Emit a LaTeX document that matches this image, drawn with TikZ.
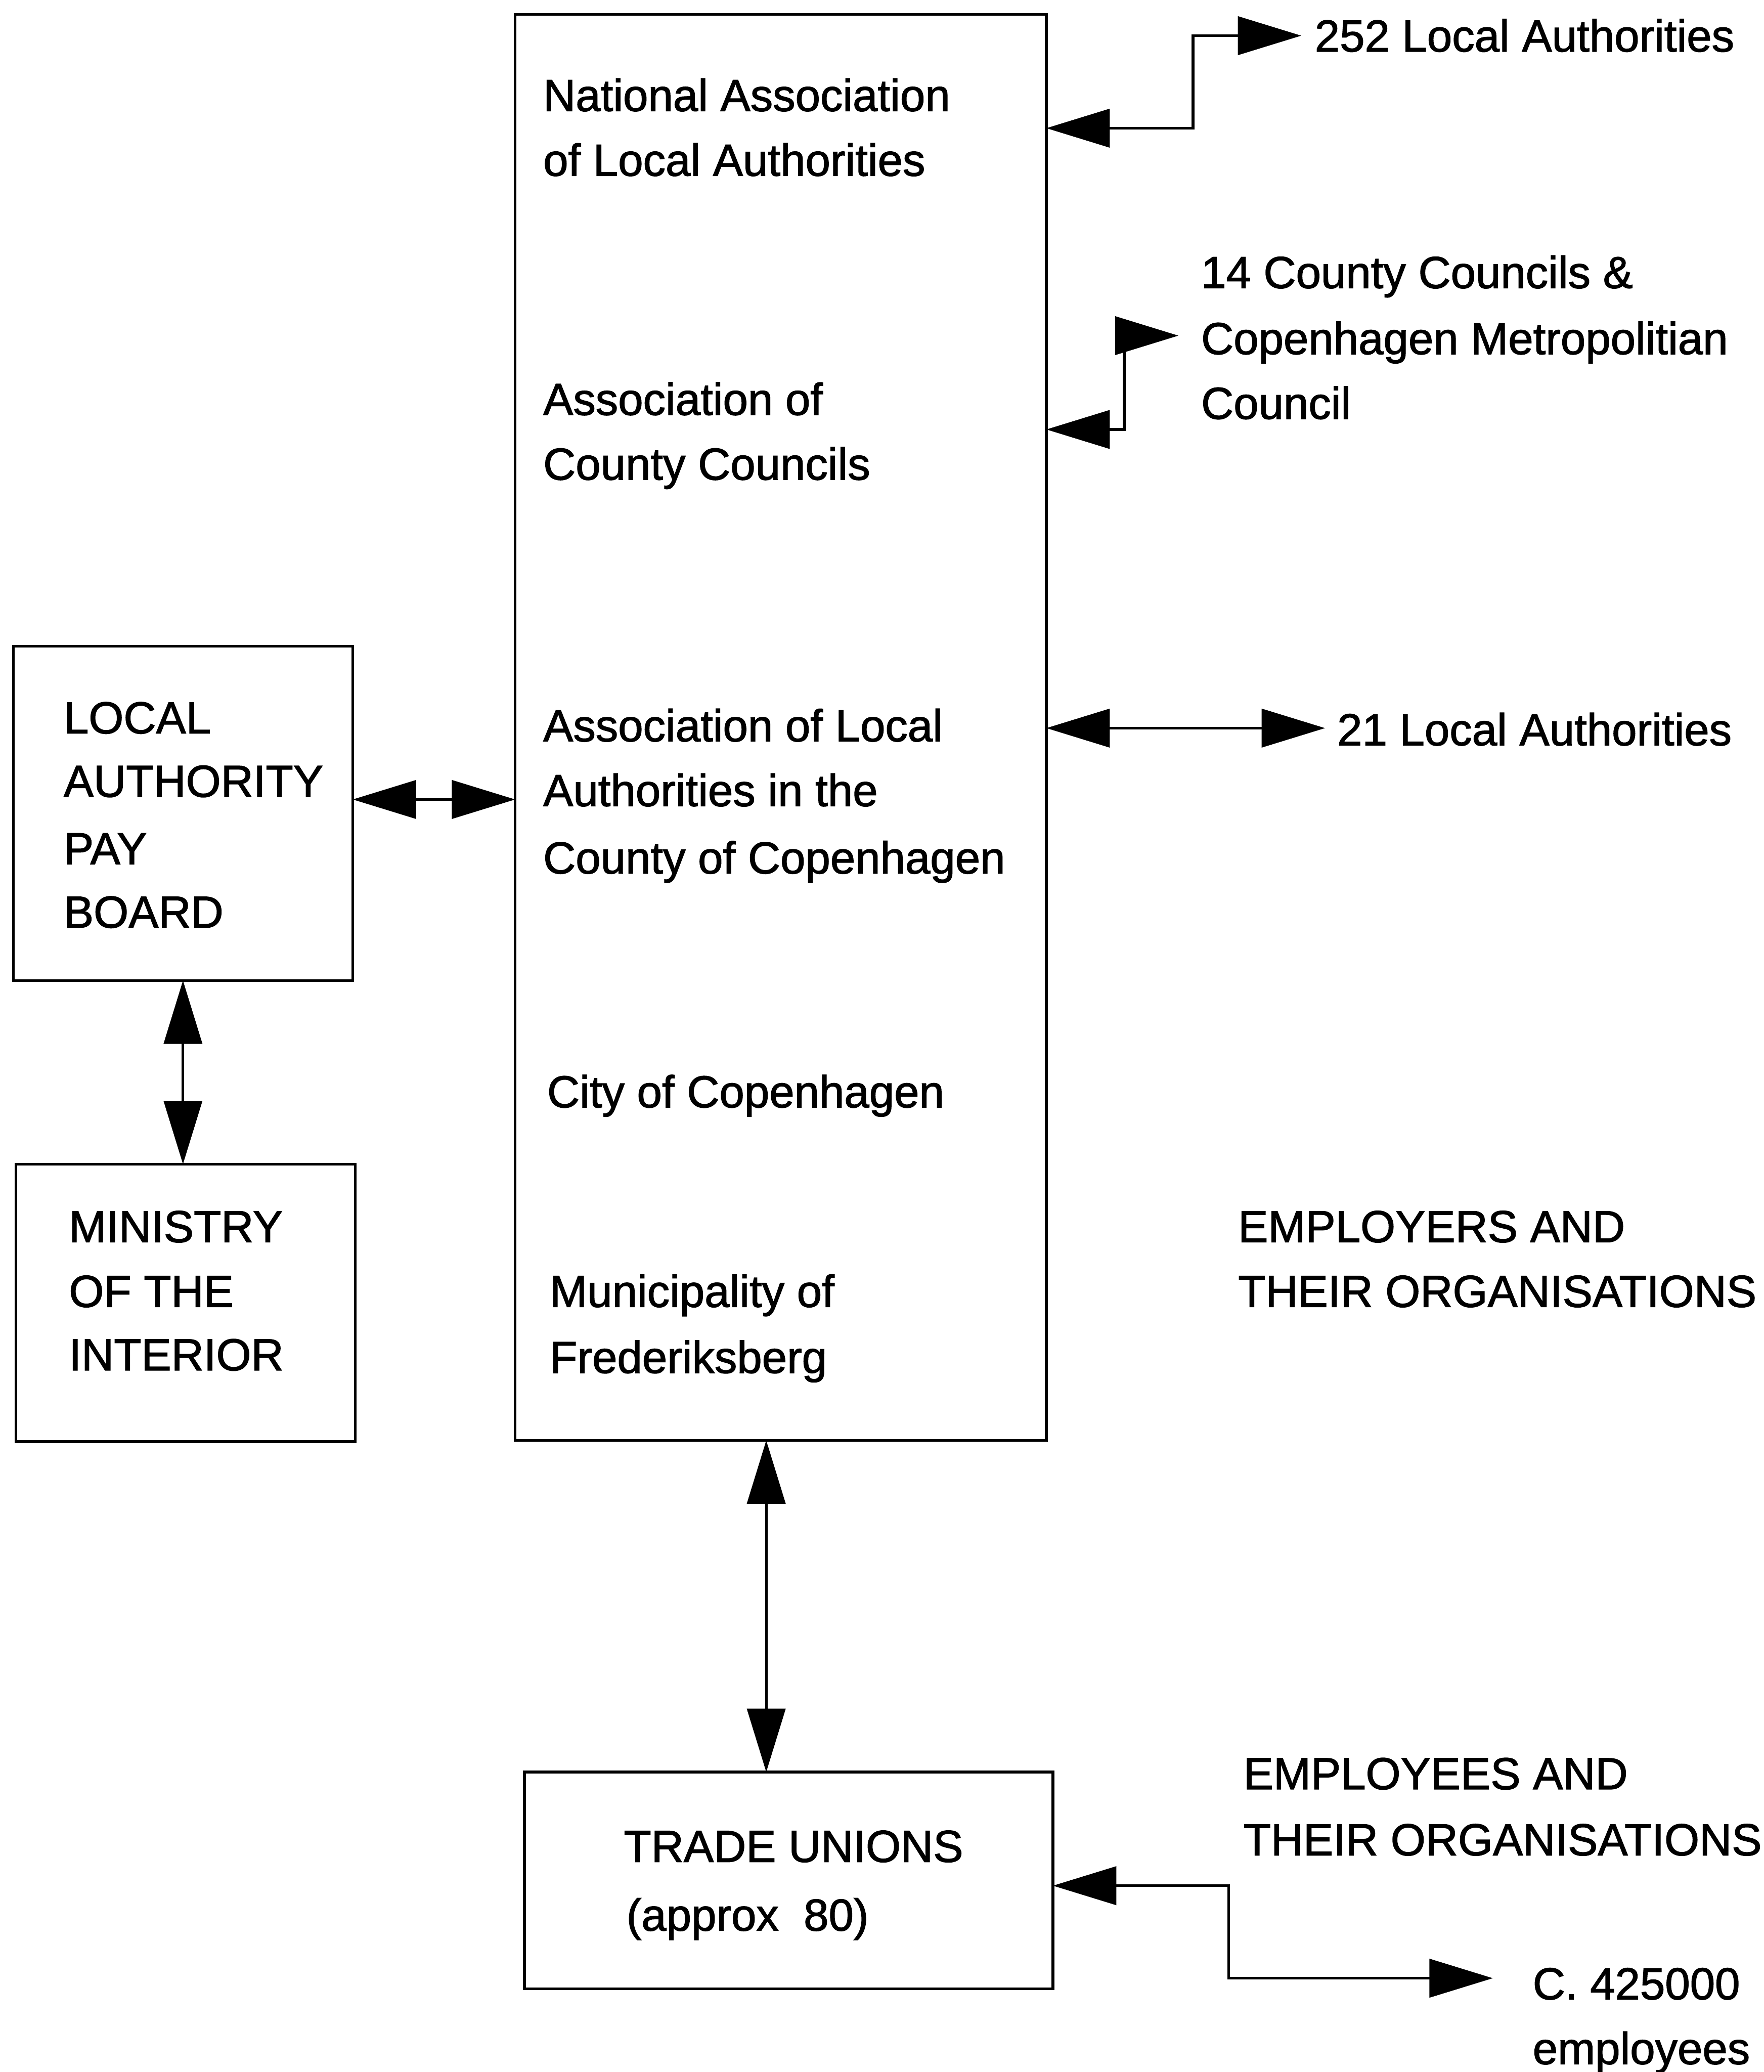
\documentclass[tikz,border=0pt]{standalone}
\usepackage{fontspec}
\setmainfont{Liberation Sans}[UprightFeatures={FakeBold=1.5}]
\usetikzlibrary{arrows.meta}
\begin{document}
\begin{tikzpicture}[x=1pt,y=-1pt,
  box/.style={draw,line width=2pt,inner sep=0pt,outer sep=0pt,anchor=north west},
  lbl/.style={inner sep=0pt,anchor=base west,font=\fontsize{34}{41}\selectfont},
  conn/.style={line width=2pt,{Triangle[length=48pt,width=29pt]}-{Triangle[length=48pt,width=29pt]}},
]
\useasboundingbox (0,0) rectangle (1335,1568);

% boxes
\node[box,minimum width=402pt,minimum height=1079pt] (main) at (390,11) {};
\node[box,minimum width=257pt,minimum height=253pt] (lapb) at (10,489) {};
\node[box,minimum width=257pt,minimum height=210pt] (moi) at (12,881) {};
\node[box,minimum width=400pt,minimum height=164pt] (tu) at (397,1341) {};

% texts in main box
\node[lbl] (na1) at (411,84) {National Association};
\node[lbl] (na2) at (411,133) {of Local Authorities};
\node[lbl] (ac1) at (411,314) {Association of};
\node[lbl] (ac2) at (411,363) {County Councils};
\node[lbl] (al1) at (411,561) {Association of Local};
\node[lbl] (al2) at (411,610) {Authorities in the};
\node[lbl] (al3) at (411,661) {County of Copenhagen};
\node[lbl] (cc) at (414,838) {City of Copenhagen};
\node[lbl] (mf1) at (416,989) {Municipality of};
\node[lbl] (mf2) at (416,1039) {Frederiksberg};

% left boxes
\node[lbl] (lp1) at (48,555) {LOCAL};
\node[lbl] (lp2) at (48,603) {AUTHORITY};
\node[lbl] (lp3) at (48,654) {PAY};
\node[lbl] (lp4) at (48,702) {BOARD};
\node[lbl] (mi1) at (52,940) {MINISTRY};
\node[lbl] (mi2) at (52,989) {OF THE};
\node[lbl] (mi3) at (52,1037) {INTERIOR};

% trade unions
\node[lbl] (tu1) at (472,1409) {TRADE UNIONS};
\node[lbl] (tu2) at (474,1461) {(approx\ \ 80)};

% right texts
\node[lbl] (t252) at (995,39) {252 Local Authorities};
\node[lbl] (cc1) at (909,218) {14 County Councils \&};
\node[lbl] (cc2) at (909,268) {Copenhagen Metropolitian};
\node[lbl] (cc3) at (909,317) {Council};
\node[lbl] (t21) at (1012,564) {21 Local Authorities};
\node[lbl] (er1) at (937,940) {EMPLOYERS AND};
\node[lbl] (er2) at (937,989) {THEIR ORGANISATIONS};
\node[lbl] (ee1) at (941,1354) {EMPLOYEES AND};
\node[lbl] (ee2) at (941,1404) {THEIR ORGANISATIONS};
\node[lbl] (emp1) at (1160,1513) {C. 425000};
\node[lbl] (emp2) at (1160,1562) {employees};

% helper coordinates
\coordinate (k1a) at (903,97);
\coordinate (k1b) at (903,27);
\coordinate (k1c) at (985,27);
\coordinate (k2a) at (851,325);
\coordinate (k2b) at (851,254);
\coordinate (k2c) at (892,254);
\coordinate (k3) at (1003,551);
\coordinate (k4) at (0,605);
\coordinate (k5) at (138.5,0);
\coordinate (k6) at (580,0);
\coordinate (k7a) at (930,1427);
\coordinate (k7b) at (930,1497);
\coordinate (k7c) at (1130,1497);

% connectors
\draw[conn] (main.east |- k1a) -- (k1a) -- (k1b) -- (k1c);
\draw[conn] (main.east |- k2a) -- (k2a) -- (k2b) -- (k2c);
\draw[conn] (main.east |- k3) -- (k3);
\draw[conn] (lapb.east |- k4) -- (main.west |- k4);
\draw[conn] (lapb.south -| k5) -- (moi.north -| k5);
\draw[conn] (main.south -| k6) -- (tu.north -| k6);
\draw[conn] (tu.east |- k7a) -- (k7a) -- (k7b) -- (k7c);
\end{tikzpicture}
\end{document}
